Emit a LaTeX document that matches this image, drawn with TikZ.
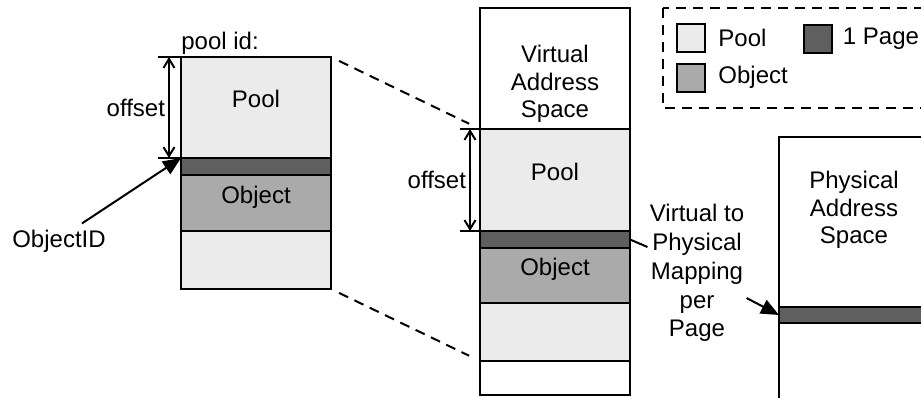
\documentclass[tikz,border=0pt]{standalone}
\usepackage{fontspec}
\setmainfont{Liberation Sans}
\usetikzlibrary{positioning}
\usetikzlibrary{arrows.meta}
\definecolor{poolgray}{RGB}{235,235,235}
\definecolor{objgray}{RGB}{170,170,170}
\definecolor{pagegray}{RGB}{95,95,95}
\tikzset{region/.style={draw=black, line width=1pt, minimum width=75pt, inner sep=0pt, outer sep=0pt, text height=0pt, text depth=0pt}}
\tikzset{swatch/.style={draw=black, line width=1pt, minimum size=14pt, inner sep=0pt}}
\tikzset{legtext/.style={inner sep=2pt}}
\tikzset{dimline/.style={line width=1pt, <->, >={Straight Barb[length=4.5pt,width=5.5pt]}}}
\tikzset{pointer/.style={line width=1pt, -{Triangle[length=9pt,width=7.5pt]}}}
\tikzset{zoomline/.style={line width=1pt, dash pattern=on 5pt off 3.5pt, shorten <=4.5pt, shorten >=6pt}}

\begin{document}
\begin{tikzpicture}[x=0.5pt,y=-0.5pt, font=\fontsize{12}{13.75}\selectfont]
\useasboundingbox (0,0) rectangle (921,397);

% the pool as the program sees it
\node[region, fill=poolgray, anchor=north west, minimum height=50.5pt] (lpool) at (181,57) {Pool};
\node[region, fill=pagegray, below=0pt of lpool, minimum height=8.5pt] (lpage) {};
\node[region, fill=objgray, below=0pt of lpage, minimum height=28pt] (lobj) {Object};
\node[region, fill=poolgray, below=0pt of lobj, minimum height=29pt] (lrest) {};
\node[anchor=base west, inner sep=0pt] (poolid) at (181,49) {pool id:};

\draw[line width=1pt] (lpool.north west) -- ++(-23,0);
\draw[line width=1pt] (lpool.south west) -- ++(-23,0);
\draw[dimline] ([xshift=-6pt]lpool.north west) -- node[left, inner sep=1.5pt] (loff) {offset} ([xshift=-6pt]lpool.south west);

\node[inner sep=1pt] (objid) at (59,241) {ObjectID};
\draw[pointer] ([xshift=11.5pt,yshift=2pt]objid.north) -- (lpage.north west);

% virtual address space
\node[region, anchor=north west, minimum height=60.5pt] (vtop) at (480,8) {};
\node[region, fill=poolgray, below=0pt of vtop, minimum height=51pt] (vpool) {Pool};
\node[region, fill=pagegray, below=0pt of vpool, minimum height=8.5pt] (vpage) {};
\node[region, fill=objgray, below=0pt of vpage, minimum height=27.5pt] (vobj) {Object};
\node[region, fill=poolgray, below=0pt of vobj, minimum height=29pt] (vlight) {};
\node[region, below=0pt of vlight, minimum height=17pt] (vbot) {};
\node[align=center] (vas) at (555,84) {Virtual\\Address\\Space};

\draw[line width=1pt] (vpool.north west) -- ++(-20,0);
\draw[line width=1pt] (vpool.south west) -- ++(-20,0);
\draw[dimline] ([xshift=-5pt]vpool.north west) -- node[left, inner sep=1.5pt] (voff) {offset} ([xshift=-5pt]vpool.south west);

\draw[zoomline] (lpool.north east) -- (vpool.north west);
\draw[zoomline] (lrest.south east) -- (vlight.south west);

% legend
\draw[line width=1pt, dash pattern=on 5pt off 3.5pt] (663,8) rectangle (940,108);
\node[swatch, fill=poolgray] (kpool) at (691,37.5) {};
\node[legtext, right=4pt of kpool] (tpool) {Pool};
\node[swatch, fill=pagegray] (kpage) at (817.5,38.5) {};
\node[legtext, right=3pt of kpage] (tpage) {1 Page};
\node[swatch, fill=objgray] (kobj) at (691,77.5) {};
\node[legtext, right=4pt of kobj] (tobj) {Object};

% physical address space
\node[region, anchor=north west, minimum width=80pt, minimum height=85pt] (ptop) at (779,137) {};
\node[region, fill=pagegray, minimum width=80pt, below=0pt of ptop, minimum height=8pt] (ppage) {};
\node[region, minimum width=80pt, below=0pt of ppage, minimum height=50pt] (pbot) {};
\node[align=center] (pas) at (854,210) {Physical\\Address\\Space};

% mapping
\node[align=center, inner sep=1pt, font=\fontsize{12}{14.4}\selectfont] (map) at (697,273) {Virtual to\\Physical\\Mapping\\per\\Page};
\draw[line width=1pt] (vpage.east) -- ([yshift=13pt]map.west);
\draw[pointer] ([yshift=-12.5pt]map.east) -- (ppage.west);
\end{tikzpicture}
\end{document}
